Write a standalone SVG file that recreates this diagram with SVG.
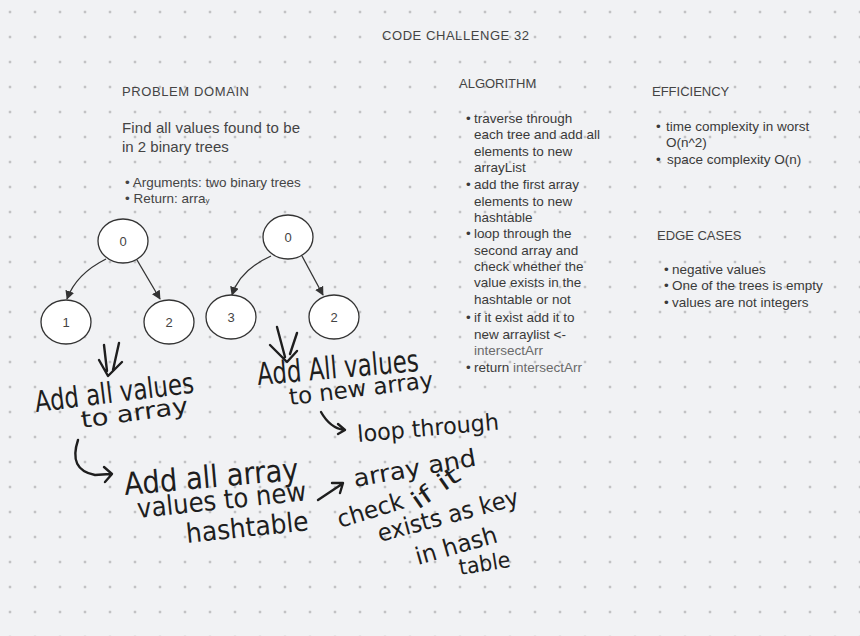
<svg xmlns="http://www.w3.org/2000/svg" width="860" height="636" viewBox="0 0 860 636">
<defs>
<pattern id="dots" width="25" height="25" patternUnits="userSpaceOnUse" x="-2.5" y="-0.5">
<circle cx="12.5" cy="12.5" r="1" fill="#8e8e8e"/>
</pattern>
<marker id="arr" viewBox="0 0 10 10" refX="9" refY="5" markerWidth="9" markerHeight="9" markerUnits="userSpaceOnUse" orient="auto">
<path d="M0,0 L10,5 L0,10 z" fill="#333"/>
</marker>
</defs>
<style>
.t{font-family:"Liberation Sans",Arial,sans-serif;fill:#444}
.h{font-size:13px}
.b{font-size:13.5px;fill:#3a3a3a}
.lt{fill:#6a6a6a}
.node ellipse{fill:#fff;stroke:#333;stroke-width:1.3}
.node text{font-family:"Liberation Sans",Arial,sans-serif;font-size:13px;fill:#444;text-anchor:middle}
.edge{fill:none;stroke:#333;stroke-width:1.3}
.hw{font-family:"DejaVu Sans","Liberation Sans",sans-serif;fill:#1e1e1e}
.pen{fill:none;stroke:#1e1e1e;stroke-width:2.4;stroke-linecap:round;stroke-linejoin:round}
</style>
<rect width="860" height="636" fill="#f1f2f4"/>
<rect width="860" height="636" fill="url(#dots)"/>

<text class="t h" x="382" y="40" textLength="147">CODE CHALLENGE 32</text>

<g id="problem-domain">
<text class="t h" x="122" y="96" textLength="127">PROBLEM DOMAIN</text>
<text class="t" x="122" y="133" font-size="15" textLength="178">Find all values found to be</text>
<text class="t" x="122" y="152" font-size="15">in 2 binary trees</text>
<text class="t" x="125" y="187" font-size="13.5">• Arguments: two binary trees</text>
<text class="t" x="125" y="203" font-size="13.5">• Return: arra<tspan font-size="8">y</tspan></text>
</g>

<g id="algorithm">
<text class="t h" x="459" y="88" fill="#333">ALGORITHM</text>
<g class="t b">
<text x="466" y="123">•</text><text x="474" y="123">traverse through</text>
<text x="474" y="139">each tree and add all</text>
<text x="474" y="156">elements to new</text>
<text x="474" y="172">arrayList</text>
<text x="466" y="189">•</text><text x="474" y="189">add the first array</text>
<text x="474" y="206">elements to new</text>
<text x="474" y="222">hashtable</text>
<text x="466" y="238">•</text><text x="474" y="238">loop through the</text>
<text x="474" y="255">second array and</text>
<text x="474" y="271">check whether the</text>
<text x="474" y="287">value exists in the</text>
<text x="474" y="304">hashtable or not</text>
<text x="466" y="322">•</text><text x="474" y="322">if it exist add it to</text>
<text x="474" y="339">new arraylist &lt;-</text>
<text x="474" y="355" class="lt">intersectArr</text>
<text x="466" y="372">•</text><text x="474" y="372">return <tspan class="lt">intersectArr</tspan></text>
</g>
</g>

<g id="efficiency">
<text class="t h" x="652" y="96" fill="#333">EFFICIENCY</text>
<g class="t b">
<text x="656" y="131">•</text><text x="666" y="131">time complexity in worst</text>
<text x="666" y="147">O(n^2)</text>
<text x="656" y="164">•</text><text x="667" y="164">space complexity O(n)</text>
</g>
</g>

<g id="edge-cases">
<text class="t h" x="657" y="240" fill="#333">EDGE CASES</text>
<g class="t b">
<text x="664" y="274">•</text><text x="672" y="274">negative values</text>
<text x="664" y="290">•</text><text x="672" y="290">One of the trees is empty</text>
<text x="664" y="307">•</text><text x="672" y="307">values are not integers</text>
</g>
</g>

<g id="connectors">
<path class="edge" d="M106,259 Q76,274 67,299" marker-end="url(#arr)"/>
<path class="edge" d="M137,260 L160,299" marker-end="url(#arr)"/>
<path class="edge" d="M271,256 Q240,270 232,295" marker-end="url(#arr)"/>
<path class="edge" d="M302,256 L323,295" marker-end="url(#arr)"/>
</g>

<g id="t1-root" class="node"><ellipse cx="123" cy="241" rx="25" ry="22"/><text x="123" y="246">0</text></g>
<g id="t1-left" class="node"><ellipse cx="66" cy="322" rx="25" ry="22"/><text x="66" y="327">1</text></g>
<g id="t1-right" class="node"><ellipse cx="169" cy="322" rx="25" ry="22"/><text x="169" y="327">2</text></g>
<g id="t2-root" class="node"><ellipse cx="288" cy="237" rx="25" ry="22"/><text x="288" y="242">0</text></g>
<g id="t2-left" class="node"><ellipse cx="231" cy="317" rx="25" ry="22"/><text x="231" y="322">3</text></g>
<g id="t2-right" class="node"><ellipse cx="334" cy="317" rx="25" ry="22"/><text x="334" y="322">2</text></g>

<g id="handwriting">
<path class="pen" d="M104,345 L107,371 M119,343 L113,370 M99,360 L108,376 L122,362"/>
<path class="pen" d="M277,327 L285,357 M297,333 L290,354 M270,345 L287,362 L297,351"/>
<path class="pen" d="M321,412 Q330,428 344,430 M338,424 L345,430 L338,434"/>
<path class="pen" d="M78,440 Q68,470 95,475 L110,474 M104,467 L112,474 L105,482"/>
<path class="pen" d="M318,500 L342,484 M332,483 L343,483 L340,493"/>

<text class="hw" font-size="29" transform="translate(36,412) rotate(-7)" textLength="160" lengthAdjust="spacingAndGlyphs">Add all values</text>
<text class="hw" font-size="23" transform="translate(82,428) rotate(-8)" textLength="108" lengthAdjust="spacingAndGlyphs">to array</text>
<text class="hw" font-size="31" transform="translate(258,385) rotate(-5)" textLength="162" lengthAdjust="spacingAndGlyphs">Add All values</text>
<text class="hw" font-size="23" transform="translate(290,405) rotate(-7)" textLength="145" lengthAdjust="spacingAndGlyphs">to new array</text>
<text class="hw" font-size="23" transform="translate(358,442) rotate(-5)" textLength="142" lengthAdjust="spacingAndGlyphs">loop through</text>
<text class="hw" font-size="31" transform="translate(125,495) rotate(-5)" textLength="175" lengthAdjust="spacingAndGlyphs">Add all array</text>
<text class="hw" font-size="27" transform="translate(138,518) rotate(-6)" textLength="170" lengthAdjust="spacingAndGlyphs">values to new</text>
<text class="hw" font-size="27" transform="translate(187,543) rotate(-6)" textLength="123" lengthAdjust="spacingAndGlyphs">hashtable</text>
<text class="hw" font-size="24" transform="translate(355,487) rotate(-10)" textLength="124" lengthAdjust="spacingAndGlyphs">array and</text>
<text class="hw" font-size="24" transform="translate(340,528) rotate(-17)" textLength="68" lengthAdjust="spacingAndGlyphs">check</text>
<text class="hw" font-size="24" transform="translate(418,510) rotate(-35)" textLength="54" lengthAdjust="spacingAndGlyphs">if it</text>
<text class="hw" font-size="24" transform="translate(380,542) rotate(-15)" textLength="145" lengthAdjust="spacingAndGlyphs">exists as key</text>
<text class="hw" font-size="24" transform="translate(418,565) rotate(-16)" textLength="84" lengthAdjust="spacingAndGlyphs">in hash</text>
<text class="hw" font-size="22" transform="translate(460,575) rotate(-9)" textLength="52" lengthAdjust="spacingAndGlyphs">table</text>
</g>
</svg>
